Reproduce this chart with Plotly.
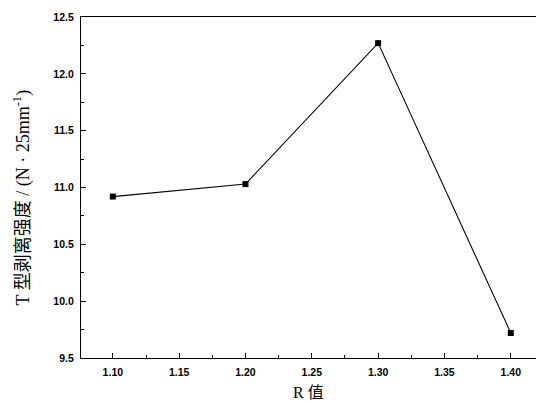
import plotly.graph_objects as go

r_values = [1.10, 1.20, 1.30, 1.40]
strength = [10.92, 11.03, 12.27, 9.72]
x_ticks = [1.10, 1.15, 1.20, 1.25, 1.30, 1.35, 1.40]
x_tick_labels = ["1.10", "1.15", "1.20", "1.25", "1.30", "1.35", "1.40"]
y_ticks = [9.5, 10.0, 10.5, 11.0, 11.5, 12.0, 12.5]
y_tick_labels = ["9.5", "10.0", "10.5", "11.0", "11.5", "12.0", "12.5"]

fig = go.Figure()
fig.add_trace(go.Scatter(
    x=r_values, y=strength, mode="lines+markers",
    line=dict(color="black", width=1.1),
    marker=dict(symbol="square", size=6, color="black"),
    showlegend=False,
))

tickfont = dict(family="Liberation Sans, Arial, sans-serif", size=10.5, color="black", weight="bold")
titlefont = dict(family="Liberation Serif, Noto Sans CJK SC", size=16, color="black")
ytitlefont = dict(family="Liberation Serif, Noto Sans CJK SC", size=18, color="black")

fig.update_layout(
    width=536, height=403,
    margin=dict(l=81, r=0, t=17, b=45),
    paper_bgcolor="white", plot_bgcolor="white",
    font=dict(family="Liberation Sans", size=12, color="black"),
    xaxis=dict(
        range=[1.076, 1.419], tickvals=x_ticks, ticktext=x_tick_labels,
        ticks="inside", ticklen=5, tickwidth=1, tickcolor="black",
        minor=dict(ticks="inside", ticklen=3, dtick=0.025, tick0=1.0, tickcolor="black"),
        showline=True, linecolor="black", linewidth=1.3, mirror=True,
        showgrid=False, zeroline=False, tickfont=tickfont, ticklabelstandoff=4,
    ),
    yaxis=dict(
        range=[9.5, 12.5], tickvals=y_ticks, ticktext=y_tick_labels,
        ticks="inside", ticklen=5, tickwidth=1, tickcolor="black",
        minor=dict(ticks="inside", ticklen=3, dtick=0.25, tick0=9.5, tickcolor="black"),
        showline=True, linecolor="black", linewidth=1.3,
        showgrid=False, zeroline=False, tickfont=tickfont, ticklabelstandoff=4,
    ),
    annotations=[
        dict(text="T 型剥离强度 / (N · 25mm<sup>-1</sup>)", xref="paper", yref="paper",
             x=0, y=0.5, xshift=-59, yshift=-10, textangle=-90, showarrow=False,
             xanchor="center", yanchor="middle", font=ytitlefont),
        dict(text="R 值", xref="paper", yref="paper", x=0.5, y=0, yshift=-34,
             showarrow=False, xanchor="center", yanchor="middle", font=titlefont),
    ],
)

fig.write_html("out.html", config={"displayModeBar": False},
               post_script="document.body.style.margin='0';document.body.style.padding='0';")
